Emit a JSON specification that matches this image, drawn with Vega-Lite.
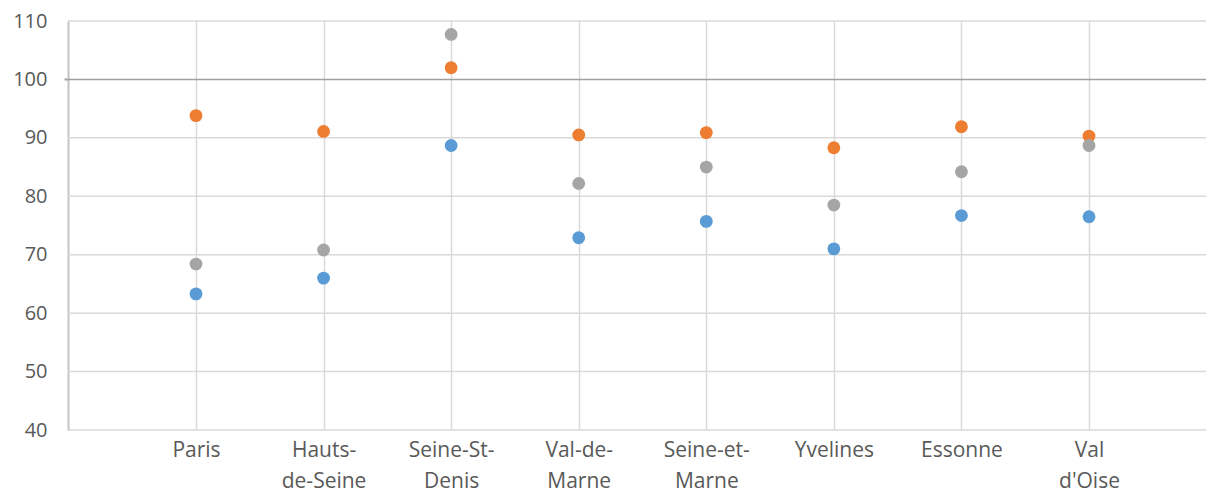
{
  "$schema": "https://vega.github.io/schema/vega-lite/v6.json",
  "width": 1138,
  "height": 409,
  "autosize": {"type": "none"},
  "padding": {"left": 68, "top": 21, "right": 0, "bottom": 60},
  "background": "white",
  "config": {"view": {"stroke": null}},
  "datasets": {
    "grille": [
      {"niveau": 40}, {"niveau": 50}, {"niveau": 60}, {"niveau": 70},
      {"niveau": 80}, {"niveau": 90}, {"niveau": 100}, {"niveau": 110}
    ],
    "points": [
      {"departement": "Paris", "serie": "Série 1", "valeur": 63.3},
      {"departement": "Paris", "serie": "Série 2", "valeur": 93.8},
      {"departement": "Paris", "serie": "Série 3", "valeur": 68.4},
      {"departement": "Hauts-de-Seine", "serie": "Série 1", "valeur": 66.0},
      {"departement": "Hauts-de-Seine", "serie": "Série 2", "valeur": 91.1},
      {"departement": "Hauts-de-Seine", "serie": "Série 3", "valeur": 70.8},
      {"departement": "Seine-St-Denis", "serie": "Série 1", "valeur": 88.7},
      {"departement": "Seine-St-Denis", "serie": "Série 2", "valeur": 102.0},
      {"departement": "Seine-St-Denis", "serie": "Série 3", "valeur": 107.7},
      {"departement": "Val-de-Marne", "serie": "Série 1", "valeur": 72.9},
      {"departement": "Val-de-Marne", "serie": "Série 2", "valeur": 90.5},
      {"departement": "Val-de-Marne", "serie": "Série 3", "valeur": 82.2},
      {"departement": "Seine-et-Marne", "serie": "Série 1", "valeur": 75.7},
      {"departement": "Seine-et-Marne", "serie": "Série 2", "valeur": 90.9},
      {"departement": "Seine-et-Marne", "serie": "Série 3", "valeur": 85.0},
      {"departement": "Yvelines", "serie": "Série 1", "valeur": 71.0},
      {"departement": "Yvelines", "serie": "Série 2", "valeur": 88.3},
      {"departement": "Yvelines", "serie": "Série 3", "valeur": 78.5},
      {"departement": "Essonne", "serie": "Série 1", "valeur": 76.7},
      {"departement": "Essonne", "serie": "Série 2", "valeur": 91.9},
      {"departement": "Essonne", "serie": "Série 3", "valeur": 84.2},
      {"departement": "Val d'Oise", "serie": "Série 1", "valeur": 76.5},
      {"departement": "Val d'Oise", "serie": "Série 2", "valeur": 90.3},
      {"departement": "Val d'Oise", "serie": "Série 3", "valeur": 88.7}
    ]
  },
  "layer": [
    {
      "data": {"name": "grille"},
      "mark": {"type": "rule", "strokeWidth": 1.5},
      "encoding": {
        "y": {"field": "niveau", "type": "quantitative"},
        "color": {
          "condition": {"test": "datum.niveau == 100", "value": "#a0a0a0"},
          "value": "#d9d9d9"
        },
        "strokeWidth": {
          "condition": {"test": "datum.niveau == 100", "value": 2},
          "value": 1.5
        }
      }
    },
    {
      "data": {"name": "points"},
      "mark": {"type": "circle", "size": 165, "opacity": 1},
      "encoding": {
        "x": {
          "field": "departement",
          "type": "nominal",
          "sort": ["Paris", "Hauts-de-Seine", "Seine-St-Denis", "Val-de-Marne", "Seine-et-Marne", "Yvelines", "Essonne", "Val d'Oise"],
          "scale": {"type": "point", "padding": 0, "range": [128, 1021]},
          "axis": {
            "title": null,
            "domain": false,
            "ticks": false,
            "grid": true,
            "gridColor": "#d9d9d9",
            "gridWidth": 1.5,
            "labelAngle": 0,
            "labelFont": "Open Sans",
            "labelFontSize": 21,
            "labelColor": "#595959",
            "labelPadding": 9,
            "labelLineHeight": 31,
            "labelBaseline": "top",
            "labelExpr": "datum.label == 'Hauts-de-Seine' ? ['Hauts-','de-Seine'] : datum.label == 'Seine-St-Denis' ? ['Seine-St-','Denis'] : datum.label == 'Val-de-Marne' ? ['Val-de-','Marne'] : datum.label == 'Seine-et-Marne' ? ['Seine-et-','Marne'] : indexof(datum.label, ' ') > 0 ? split(datum.label, ' ') : datum.label"
          }
        },
        "y": {
          "field": "valeur",
          "type": "quantitative",
          "scale": {"domain": [40, 110], "nice": false, "zero": false},
          "axis": {
            "title": null,
            "values": [40, 50, 60, 70, 80, 90, 100, 110],
            "domain": true,
            "domainColor": "#c4c4c4",
            "domainWidth": 2,
            "ticks": true,
            "tickSize": 4,
            "tickWidth": 2,
            "tickColor": {"condition": {"test": "datum.value == 100", "value": "#a0a0a0"}, "value": "transparent"},
            "grid": false,
            "labelFont": "Open Sans",
            "labelFontSize": 20,
            "labelColor": "#595959",
            "labelPadding": 17
          }
        },
        "color": {
          "field": "serie",
          "type": "nominal",
          "scale": {"domain": ["Série 1", "Série 2", "Série 3"], "range": ["#5B9BD5", "#ED7D31", "#A5A5A5"]},
          "legend": null
        }
      }
    }
  ]
}
